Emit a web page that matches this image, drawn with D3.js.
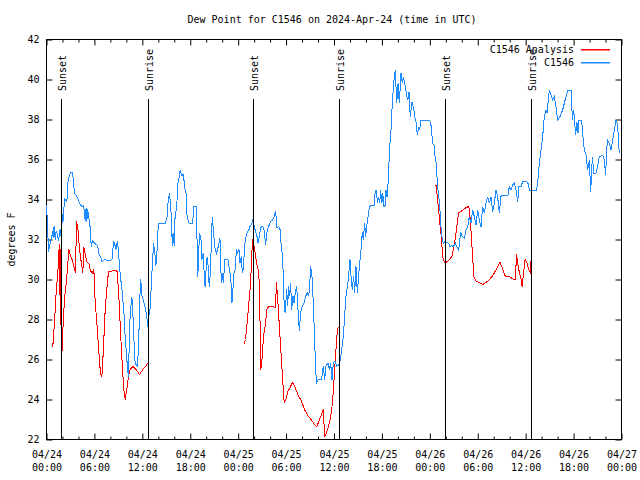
<!DOCTYPE html>
<html><head><meta charset="utf-8">
<script src="https://cdn.jsdelivr.net/npm/d3@7"></script>
<style>
body{margin:0;background:#fff}
svg{display:block}
text{font-family:"DejaVu Sans Mono",monospace;font-size:10px;fill:#000}
</style>
</head><body>
<svg id="c" width="640" height="480"></svg>
<script>
const title = "Dew Point for C1546 on 2024-Apr-24 (time in UTC)";
const yLabel = "degrees F";
const seriesNames = ["C1546 Analysis", "C1546"];
const seriesColors = ["#ff0000", "#1e8cff"];
const startTime = Date.UTC(2024, 3, 24, 0, 0);
const yTicks = [22, 24, 26, 28, 30, 32, 34, 36, 38, 40, 42];
const xMajorHours = [0, 6, 12, 18, 24, 30, 36, 42, 48, 54, 60, 66, 72];
const xMinorHours = [2, 4, 8, 10, 14, 16, 20, 22, 26, 28, 32, 34, 38, 40, 44, 46, 50, 52, 56, 58, 62, 64, 68, 70];
const sunLabels = ["Sunset", "Sunrise", "Sunset", "Sunrise", "Sunset", "Sunrise"];
const sunHours = [1.88, 12.77, 25.92, 36.68, 49.95, 60.73];

// C1546 observations (hours since 04/24 00:00 UTC, degrees F)
const blueHours = [
 0, 0.15, 0.25, 0.45, 0.6, 0.75, 0.85, 0.95, 1.1, 1.2, 1.35, 1.5, 1.7, 1.85, 1.95, 2.05, 2.15, 2.25,
 2.4, 2.55, 2.7, 2.85, 3.05, 3.25, 3.35, 3.5, 3.75, 3.9, 4.15, 4.3, 4.5, 4.65, 4.75, 4.85, 4.95, 5.05,
 5.15, 5.3, 5.45, 5.6, 5.75, 5.95, 6.2, 6.4, 6.55, 6.75, 6.95, 7.3, 7.6, 7.9, 8.2, 8.4, 8.55, 8.7,
 8.85, 9.0, 9.15, 9.3, 9.45, 9.55, 9.7, 9.85, 9.95, 10.1, 10.25, 10.45, 10.55, 10.7, 10.85, 11.0, 11.1, 11.4,
 11.55, 11.7, 11.8, 11.95, 12.1, 12.3, 12.45, 12.6, 12.75, 12.85, 13.0, 13.15, 13.3, 13.4, 13.55, 13.7,
 13.85, 13.95, 14.05, 14.9, 15.1, 15.25, 15.4, 15.55, 15.65, 15.75, 15.85, 16.0, 16.1, 16.3, 16.45, 16.6,
 16.75, 16.9, 17.15, 17.3, 17.5, 17.6, 17.85, 18.3, 18.45, 18.75, 18.85, 18.95, 19.05, 19.2, 19.35, 19.45,
 19.6, 19.7, 19.85, 19.95, 20.1, 20.2, 20.3, 20.4, 20.5, 20.6, 20.75, 20.9, 21.05, 21.3, 21.5,
 21.72, 21.89, 22.02, 22.14, 22.35, 22.72, 22.89, 23.06, 23.22, 23.31, 23.48, 23.64, 23.77, 23.94, 24.1,
 24.23, 24.4, 24.52, 24.65, 24.82, 24.94, 25.15, 25.36, 25.52, 25.69, 25.86, 25.98, 26.15, 26.32, 26.49,
 26.65, 26.82, 27.07, 27.23, 27.44, 27.65, 27.86, 28.07, 28.32, 28.53, 28.69, 28.86, 29.07, 29.24, 29.4,
 29.57, 29.78, 29.9, 30.07, 30.2, 30.32, 30.45, 30.57, 30.7, 30.86, 30.99, 31.16, 31.33, 31.49, 31.66,
 31.82, 32.03, 32.24, 32.45, 32.66, 32.83, 32.95, 33.08, 33.24, 33.41, 33.58, 33.79, 34.04, 34.45, 34.66,
 34.83, 35.0, 35.25, 35.41, 35.58, 35.75, 35.92, 36.12, 36.33, 36.67, 36.92, 37.17, 37.33, 37.5, 37.75,
 38.0, 38.13, 38.29, 38.46, 38.59, 38.75, 38.92,
 39.17, 39.38, 39.55, 39.67, 39.84, 39.96, 40.17, 40.42, 40.59, 41.05, 41.17, 41.34, 41.42, 41.59, 41.72,
 41.84, 42.0, 42.1, 42.26, 42.38, 42.51, 42.64, 42.8, 42.97, 43.1, 43.26, 43.47, 43.68, 43.85, 44.02,
 44.18, 44.39, 44.55, 44.68, 44.89, 45.14, 45.26, 45.39, 45.55, 45.77, 45.97, 46.18, 46.31, 46.43, 46.6,
 46.73, 46.89, 48.02, 48.18, 48.35, 48.52, 48.69, 48.81, 48.94, 49.11, 49.23, 49.35, 49.52, 49.69, 49.9,
 50.1, 50.35, 50.52, 50.77, 50.93, 51.19, 51.36, 51.61, 51.86, 52.07, 52.32, 52.53, 52.74, 52.94, 53.15,
 53.36, 53.57, 53.78, 53.99, 54.2, 54.41, 54.61, 54.82, 55.03, 55.24, 55.45, 55.66, 55.87, 56.07, 56.28,
 56.49, 56.7, 56.91, 57.12, 57.79, 57.95, 58.16, 58.37, 58.58, 58.79, 59.0, 59.16, 59.41, 59.62, 60.12,
 60.29, 60.46, 61.37, 61.54, 61.71, 61.92, 62.13, 62.33, 62.54, 62.71, 62.79, 62.96, 63.17, 63.38, 63.59,
 63.79, 64.0, 64.29, 64.63, 64.84, 65.05, 65.25, 65.72, 65.84, 66.01, 66.26, 66.42, 66.55, 66.68, 67.01,
 67.14, 67.34, 67.55, 67.76, 67.97, 68.14, 68.35, 68.55, 68.8, 69.01, 69.22, 69.64, 69.85, 70.01, 70.22,
 70.47, 70.68, 70.89, 71.1, 71.31, 71.51, 71.72, 71.8
];
const blueValues = [
 33.7, 32.55, 31.4, 31.8, 32.0, 32.4, 32.1, 32.65, 32.0, 32.4, 32.3, 31.95, 32.5, 32.1, 33.25, 32.85, 33.3, 34.05,
 33.95, 33.9, 34.9, 35.2, 35.35, 35.35, 35.0, 34.3, 34.2, 34.05, 33.8, 33.7, 33.65, 33.7, 33.3, 32.95, 33.55, 32.9,
 33.5, 33.1, 32.65, 31.65, 31.95, 31.85, 31.75, 31.7, 31.3, 31.15, 30.9, 31.0, 30.95, 30.95, 31.0, 31.9, 31.75, 31.5,
 31.9, 31.5, 30.6, 30.0, 29.5, 29.0, 28.3, 27.15, 26.6, 25.8, 25.15, 28.0, 28.6, 29.1, 28.0, 26.5, 25.8, 25.65,
 27.0, 29.2, 30.0, 29.2, 29.0, 28.7, 28.4, 28.0, 27.5, 28.3, 28.6, 30.0, 31.0, 31.8, 31.4, 30.7,
 31.5, 32.4, 32.8, 32.8, 33.15, 34.0, 34.3, 33.7, 32.9, 31.7, 32.3, 31.7, 33.15, 33.6, 34.8, 35.1,
 35.475, 35.2, 35.25, 34.6, 34.3, 33.15, 32.8, 32.8, 33.65, 33.65, 31.975, 30.15, 31.475, 32.3, 31.95, 30.975,
 31.3, 30.64, 29.64, 30.3, 31.1, 30.975, 29.975, 29.64, 30.3, 31.3, 33.14, 32.475, 31.64, 31.3, 31.64,
 32.08, 29.83, 30.33, 29.83, 31.0, 31.0, 30.5, 30.17, 28.83, 29.33, 30.33, 30.5, 31.5, 31.33, 31.5,
 30.83, 31.17, 30.33, 30.58, 31.67, 32.08, 32.37, 32.5, 32.7, 32.75, 33.0, 32.75, 32.42, 32.25, 31.83,
 32.13, 32.58, 32.67, 32.5, 31.75, 32.5, 32.7, 32.92, 32.97, 33.17, 33.42, 32.58, 32.67, 32.5, 31.67,
 31.08, 28.5, 28.33, 29.5, 28.67, 29.67, 29.17, 29.83, 28.5, 29.17, 28.83, 29.33, 29.67, 28.5, 27.42,
 28.33, 28.67, 28.83, 29.17, 29.33, 29.17, 29.67, 30.67, 30.17, 28.83, 26.83, 24.83, 25.0, 25.0, 25.67,
 25.0, 25.67, 25.83, 25.5, 25.83, 25.0, 25.83, 25.92, 25.67, 25.75, 26.33, 27.17, 28.17, 29.17, 29.83,
 31.0, 30.17, 29.5, 30.17, 29.33, 30.67, 29.33,
 30.64, 31.475, 32.39, 31.975, 32.81, 32.14, 32.89, 33.56, 33.725, 33.725, 34.475, 34.475, 33.81, 34.14, 33.81,
 34.475, 33.81, 34.31, 33.64, 33.64, 34.475, 34.14, 34.975, 36.64, 37.14, 38.475, 39.81, 40.475, 38.81, 39.81,
 38.81, 40.31, 39.81, 40.14, 39.725, 39.14, 38.975, 39.39, 38.14, 38.89, 38.56, 37.975, 37.81, 37.225, 37.64,
 37.475, 37.975, 37.94, 37.64, 36.81, 36.725, 35.975, 35.81, 34.81, 34.14, 33.81, 32.81, 32.14, 31.81, 31.89,
 31.86, 31.81, 31.64, 31.725, 31.64, 31.81, 31.64, 31.475, 32.39, 32.14, 32.06, 32.475, 32.64, 33.14, 32.81,
 33.475, 33.14, 32.725, 33.475, 32.975, 32.64, 33.64, 33.31, 33.81, 34.14, 33.81, 34.14, 33.39, 33.81, 34.475,
 34.14, 33.31, 34.14, 34.225, 34.225, 34.64, 34.475, 34.725, 34.81, 34.475, 33.89, 34.64, 34.64, 34.89, 34.89,
 34.81, 34.475, 34.475, 34.975, 35.81, 36.475, 37.14, 38.14, 38.475, 38.31, 38.81, 39.475, 39.225, 38.975, 39.14,
 38.64, 37.975, 38.14, 38.475, 38.81, 39.14, 39.44, 39.44, 37.975, 38.475, 37.225, 37.89, 37.31, 37.975, 37.975,
 37.31, 36.475, 36.225, 35.475, 35.975, 34.39, 36.14, 35.31, 35.31, 35.64, 36.14, 36.225, 35.975, 35.225, 36.975,
 36.81, 36.475, 36.975, 37.475, 37.975, 37.725, 36.31, 36.475
];

// C1546 Analysis (null = gap)
const redHours = [
 0.67, 0.79, 1.0, 1.21, 1.42, 1.54, 1.63, 1.7, 1.75, 1.85, 1.92, 2.05, 2.25, 2.55, 2.8, 3.0,
 3.2, 3.42, 3.63, 3.76, 3.92, 4.13, 4.34, 4.55, 4.67, 4.88, 5.09, 5.3, 5.5, 5.72, 5.93, 6.1,
 6.3, 6.5, 6.72, 6.85, 6.97, 7.14, 7.35, 7.55, 7.76, 8.72, 8.85, 9.06, 9.27, 9.47, 9.68, 9.85,
 10.06, 10.27, 10.48, 10.8, 11.23, 11.64, 12.06, 12.4, 12.73,
 18.0,
 24.71, 24.92, 25.13, 25.33, 25.54, 25.67, 25.79, 25.96, 26.17, 26.38, 26.59, 26.71, 26.84,
 27.0, 27.17, 27.38, 27.59, 27.8, 28.34, 28.67, 28.8, 28.97, 29.13, 29.34, 29.55, 29.76,
 29.97, 30.22, 30.52, 30.76, 31.05, 31.47, 31.89, 32.3, 32.72, 33.14, 33.56, 33.85, 34.19,
 34.52, 34.68, 34.81, 35.02, 35.27, 35.52, 35.72, 35.93, 36.14, 36.35, 36.52, 36.81,
 42.0,
 48.66, 48.79, 49.0, 49.21, 49.42, 49.62, 49.83, 50.04, 50.46, 50.75, 50.96, 51.17, 51.38,
 51.59, 51.92, 52.34, 52.84, 52.96, 53.09, 53.3, 53.51, 53.8, 54.22, 54.63, 55.05, 55.47,
 55.89, 56.31, 56.64, 56.8, 57.05, 57.26, 57.47, 57.97, 58.47, 58.72, 58.85, 59.02, 59.23,
 59.43, 59.56, 59.72, 59.93, 60.18, 60.39, 60.6, 60.68, 60.77
];
const redValues = [
 26.65, 26.65, 27.85, 29.35, 30.35, 31.35, 31.75, 28.9, 31.5, 25.85, 26.2, 27.5, 29.0, 30.15, 31.5, 31.2,
 31.0, 30.65, 30.35, 32.9, 32.6, 31.5, 30.9, 30.35, 31.6, 31.2, 30.85, 30.8, 30.45, 30.3, 30.5, 28.85,
 27.85, 26.7, 25.5, 25.15, 25.3, 26.65, 28.5, 29.5, 30.4, 30.45, 30.4, 29.15, 27.35, 25.85, 24.5, 24.0,
 24.5, 25.15, 25.5, 25.65, 25.5, 25.25, 25.5, 25.65, 25.85,
 null,
 26.75, 27.0, 27.85, 28.8, 29.7, 30.85, 32.0, 31.75, 31.2, 30.7, 30.35, 28.5, 25.5,
 26.1, 27.15, 27.65, 28.5, 28.65, 28.65, 28.6, 29.85, 28.9, 27.85, 26.5, 25.15, 23.85,
 24.0, 24.4, 24.6, 24.85, 24.7, 24.25, 23.95, 23.5, 23.2, 23.0, 22.75, 22.65, 23.0,
 23.35, 23.5, 22.15, 22.3, 22.6, 23.0, 23.5, 24.5, 25.85, 27.15, 27.6, 27.6,
 null,
 34.7, 34.7, 33.9, 33.0, 32.2, 31.1, 30.85, 30.85, 31.0, 31.15, 31.5, 32.0, 32.65,
 33.35, 33.4, 33.55, 33.65, 33.5, 32.85, 31.5, 30.15, 29.9, 29.85, 29.75, 29.85, 30.0,
 30.2, 30.5, 30.75, 30.85, 30.6, 30.35, 30.15, 30.15, 30.0, 30.0, 31.25, 30.8, 30.3,
 30.0, 29.65, 30.3, 31.0, 30.8, 30.5, 30.35, 31.0, 31.6
];

const L = 46.5, R = 621.5, T = 39.5, B = 439.5;
const svg = d3.select("#c");
const hourToDate = h => new Date(startTime + h * 3600000);

const x = d3.scaleUtc().domain([hourToDate(0), hourToDate(72)]).range([L, R]);
const y = d3.scaleLinear().domain([22, 42]).range([B, T]);

// title
svg.append("text").attr("x", 332).attr("y", 23).attr("text-anchor", "middle").text(title);
// y label
svg.append("text").attr("transform", `translate(15,${(T + B) / 2}) rotate(-90)`)
  .attr("text-anchor", "middle").text(yLabel);

// axes
const fmtD = d3.utcFormat("%m/%d"), fmtT = d3.utcFormat("%H:%M");
const gB = svg.append("g").attr("transform", `translate(0,${B})`)
  .call(d3.axisBottom(x).tickValues(xMajorHours.map(hourToDate)).tickSize(-6).tickPadding(11).tickFormat(""));
gB.selectAll(".tick").each(function (d) {
  const t = d3.select(this).select("text");
  t.append("tspan").attr("x", 0).text(fmtD(d));
  t.append("tspan").attr("x", 0).attr("dy", "13px").text(fmtT(d));
});
svg.append("g").attr("transform", `translate(0,${B})`)
  .call(d3.axisBottom(x).tickValues(xMinorHours.map(hourToDate)).tickSize(-3).tickFormat(""));
svg.append("g").attr("transform", `translate(0,${T})`)
  .call(d3.axisTop(x).tickValues(xMajorHours.map(hourToDate)).tickSize(-6).tickFormat(""));
svg.append("g").attr("transform", `translate(0,${T})`)
  .call(d3.axisTop(x).tickValues(xMinorHours.map(hourToDate)).tickSize(-3).tickFormat(""));
svg.append("g").attr("transform", `translate(${L},0)`)
  .call(d3.axisLeft(y).tickValues(yTicks).tickSize(-6).tickPadding(7).tickFormat(d3.format("d")));
svg.append("g").attr("transform", `translate(${R},0)`)
  .call(d3.axisRight(y).tickValues(yTicks).tickSize(-6).tickFormat(""));
svg.selectAll(".domain").remove();
svg.selectAll(".tick line").attr("stroke", "#000");
svg.selectAll(".tick text").attr("font-family", "DejaVu Sans Mono").attr("font-size", 10).attr("fill", "#000");

// frame
svg.append("rect").attr("x", L).attr("y", T).attr("width", R - L).attr("height", B - T)
  .attr("fill", "none").attr("stroke", "#000");

// data lines
const line = d3.line().defined(d => d[1] !== null).x(d => x(hourToDate(d[0]))).y(d => y(d[1]));
const redData = redHours.map((h, i) => [h, redValues[i]]);
const blueData = blueHours.map((h, i) => [h, blueValues[i]]);
svg.append("path").datum(redData).attr("d", line).attr("fill", "none")
  .attr("stroke", seriesColors[0]).attr("stroke-width", 1).attr("shape-rendering", "crispEdges");
svg.append("path").datum(blueData).attr("d", line).attr("fill", "none")
  .attr("stroke", seriesColors[1]).attr("stroke-width", 1).attr("shape-rendering", "crispEdges");

// sun lines
sunHours.forEach((h, i) => {
  const xp = Math.round(x(hourToDate(h)) - 0.5) + 0.5;
  svg.append("line").attr("x1", xp).attr("x2", xp).attr("y1", 99).attr("y2", B).attr("stroke", "#000");
  svg.append("text").attr("transform", `translate(${xp + 4},91) rotate(-90)`).text(sunLabels[i]);
});

// legend
seriesNames.forEach((n, i) => {
  const yy = 49 + i * 13;
  svg.append("text").attr("x", 574).attr("y", yy + 4).attr("text-anchor", "end").text(n);
  svg.append("rect").attr("x", 581).attr("y", yy).attr("width", 29).attr("height", 1.5)
    .attr("fill", seriesColors[i]);
});
</script>
</body></html>
